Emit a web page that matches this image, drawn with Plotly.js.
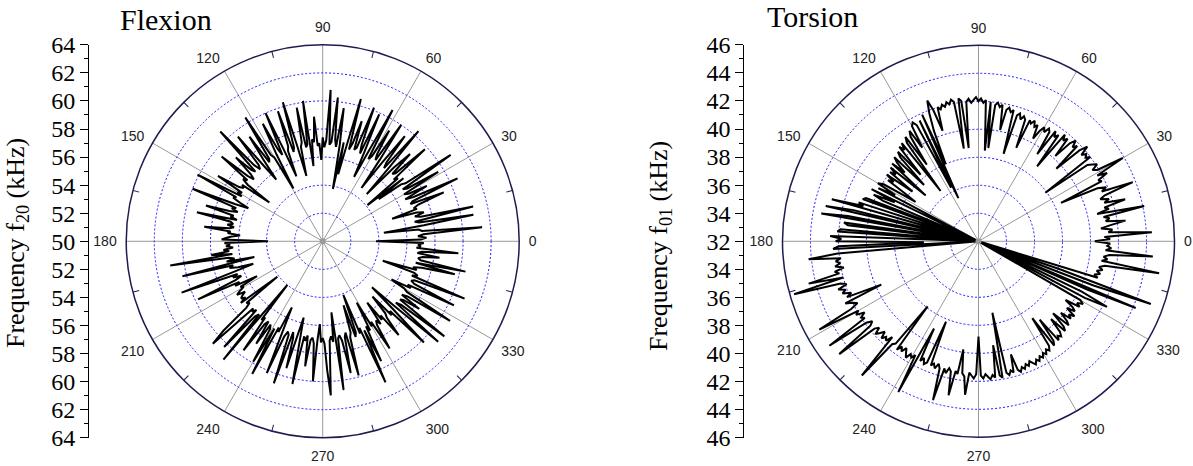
<!DOCTYPE html>
<html>
<head>
<meta charset="utf-8">
<script src="https://cdn.plot.ly/plotly-3.0.1.min.js"></script>
<style>html,body{margin:0;padding:0;background:#fff;}#chart{width:1193px;height:466px;}</style>
</head>
<body>
<div id="chart"></div>
<script>
// ---- Data: frequency (kHz) read every 1 degree, 0..359 ----
const flexionValues = [
53.8,57.0,57.4,56.8,57.2,61.4,57.1,56.9,54.4,57.3,
60.9,57.0,56.7,61.0,57.2,56.8,57.5,57.0,55.2,57.1,
56.9,57.3,59.3,56.8,57.0,60.6,57.2,56.6,58.4,57.0,
56.7,59.6,57.1,56.8,61.0,57.2,56.9,55.0,57.3,54.1,
57.0,56.7,59.8,57.1,56.9,58.8,57.3,54.6,57.0,60.4,
56.8,57.2,59.5,57.0,54.7,57.1,60.0,56.9,57.3,59.2,
57.0,56.7,60.6,57.2,55.1,57.0,59.9,56.8,57.4,60.2,
57.1,56.9,59.0,57.3,56.8,60.5,57.0,54.9,57.2,53.8,
57.0,59.6,56.8,57.3,60.3,57.1,56.9,60.8,57.2,56.7,
57.4,55.8,57.0,56.8,58.9,57.1,57.3,55.4,60.1,57.0,
56.8,59.7,57.2,56.9,54.8,57.1,60.3,57.0,56.7,59.8,
57.2,56.9,55.0,57.1,60.0,56.8,57.3,59.4,57.0,54.3,
56.9,57.2,60.4,57.0,56.8,59.1,57.2,55.5,56.9,59.6,
57.1,56.8,57.3,60.7,56.9,57.2,58.6,57.0,56.6,57.1,
59.4,56.9,57.2,56.7,54.7,57.0,56.8,57.1,58.8,56.7,
57.0,56.6,60.1,56.9,57.1,56.5,55.8,56.8,60.0,56.6,
56.9,56.4,57.0,58.7,56.6,56.8,56.3,59.2,56.7,56.5,
56.9,56.4,56.7,58.5,56.6,56.8,55.9,56.5,56.9,57.2,
53.9,57.0,56.6,56.9,56.4,57.1,56.7,58.0,56.5,61.0,
56.8,56.4,57.0,55.0,60.3,56.6,56.9,56.3,55.2,56.8,
60.7,56.5,56.9,56.3,56.8,59.8,56.6,57.0,55.3,56.7,
56.5,56.9,57.2,56.6,56.9,57.1,56.8,57.3,54.1,57.0,
56.8,57.2,59.5,60.7,56.9,57.1,56.8,60.3,57.2,56.9,
61.0,54.0,57.1,56.8,59.6,57.2,56.9,58.7,57.0,57.3,
59.9,57.1,60.7,56.9,57.2,55.2,57.0,60.2,57.3,56.9,
57.1,60.7,56.8,57.2,59.4,57.0,55.6,57.3,60.4,56.9,
57.2,56.8,59.0,57.1,56.9,57.3,60.0,57.0,55.9,57.2,
56.9,57.3,59.2,61.0,57.1,56.8,57.2,55.1,60.7,57.0,
56.8,57.2,59.6,57.0,56.7,59.9,57.1,56.8,54.8,57.2,
56.9,54.1,57.1,56.7,61.0,57.0,59.5,56.8,57.2,55.0,
57.0,56.7,59.0,57.1,56.8,57.2,55.4,57.0,56.7,58.6,
57.1,56.8,55.3,57.2,56.9,60.2,57.0,54.8,57.1,60.9,
56.8,57.2,61.0,56.9,57.1,58.4,56.8,57.2,60.7,57.0,
56.7,55.6,57.1,56.8,60.4,57.2,56.9,57.1,60.9,56.8,
57.2,56.9,54.5,57.0,56.7,57.3,59.7,56.8,60.4,57.1,
56.9,57.2,58.4,56.8,57.1,59.7,56.7,57.0,56.8,57.2
];
const torsionValues = [
40.3,41.4,41.0,44.4,41.3,41.6,40.8,41.5,42.6,41.2,
41.5,41.1,44.1,40.7,41.6,41.3,42.9,41.4,41.8,41.2,
41.6,43.8,41.5,41.9,41.3,38.5,41.8,41.6,42.4,41.7,
43.9,41.9,41.6,42.1,41.8,41.5,37.9,42.0,41.7,41.9,
41.6,42.3,41.7,39.6,41.8,41.5,42.0,41.6,40.2,41.7,
41.4,41.8,38.8,41.5,41.2,41.6,39.5,41.3,41.5,41.1,
41.4,41.0,40.3,41.3,41.1,41.5,41.2,41.4,39.2,41.3,
41.5,41.2,41.6,41.4,38.5,41.7,41.5,41.8,41.6,40.1,
41.9,41.7,42.0,41.8,38.7,42.0,38.5,42.1,41.9,42.2,
42.0,42.3,42.1,41.9,42.2,42.0,38.7,42.1,42.3,38.7,
42.1,42.3,42.0,42.2,41.9,42.1,41.8,42.0,40.3,41.9,
42.7,41.8,40.5,38.0,41.9,35.4,41.6,36.3,41.4,41.7,
41.5,39.8,41.3,40.9,38.6,41.1,40.7,36.5,40.9,40.4,
40.8,38.3,40.6,40.2,37.6,40.5,40.1,39.2,40.3,37.0,
40.2,39.6,40.0,37.9,40.1,39.4,39.8,38.2,37.3,39.9,
40.3,38.8,40.1,32.0,40.5,38.6,40.2,39.4,32.0,40.6,
40.8,32.0,41.0,40.6,42.9,32.0,41.2,43.2,32.0,41.5,
43.4,32.0,41.7,41.4,32.0,41.9,42.1,32.0,42.6,41.8,
42.2,35.9,42.0,42.4,32.0,42.1,44.2,41.9,42.3,42.0,
42.4,41.8,42.5,42.2,44.5,42.0,45.7,42.3,41.9,42.6,
42.1,42.4,41.8,42.2,39.6,42.5,42.0,41.7,42.3,45.0,
41.9,42.2,41.6,42.0,41.8,45.0,41.9,41.5,41.8,44.8,
41.7,41.4,41.9,41.6,41.3,41.8,41.5,41.7,41.2,44.7,
41.6,41.4,37.9,41.7,41.3,41.6,41.2,41.5,41.8,41.4,
41.6,41.3,44.2,39.0,41.5,41.2,41.6,41.4,38.2,41.5,
41.3,41.6,41.2,41.5,43.8,41.4,41.7,41.3,41.5,43.2,
41.4,41.6,39.8,41.5,41.7,43.0,41.4,41.6,41.8,41.5,
38.8,41.6,41.8,41.5,41.7,41.9,41.6,41.8,39.5,41.7,
41.9,37.2,41.6,41.8,41.5,41.7,40.4,41.6,41.8,41.5,
41.7,41.4,41.6,41.3,41.5,41.7,41.4,41.6,41.3,41.5,
41.2,41.4,41.1,41.3,41.0,38.7,41.2,40.9,39.1,41.1,
40.8,41.0,40.7,39.6,40.9,40.6,39.4,40.8,40.5,39.8,
40.6,40.3,40.7,39.9,40.5,40.2,39.5,40.6,40.3,40.7,
40.4,32.0,40.6,42.3,40.2,32.0,40.5,44.2,32.0,40.8,
45.1,38.2,32.0,40.9,40.6,41.0,40.7,41.1,40.8,41.2,
45.1,40.9,41.3,41.0,41.4,44.5,41.1,41.5,41.2,41.4
];

// ---- Axis ticks ----
const angleTickVals = [0,30,60,90,120,150,180,210,240,270,300,330];
const angleTickText = ["0","30","60","90","120","150","180","210","240","270","300","330"];
const angleMinorVals = [15,45,75,105,135,165,195,225,255,285,315,345];
const flexGridVals = [52,54,56,58,60,62];
const torsGridVals = [34,36,38,40,42,44];
const sideTickVals = [-14,-12,-10,-8,-6,-4,-2,0,2,4,6,8,10,12,14];
const sideMinorVals = [-13,-11,-9,-7,-5,-3,-1,1,3,5,7,9,11,13];
const flexSideText = ["64","62","60","58","56","54","52","50","52","54","56","58","60","62","64"];
const torsSideText = ["46","44","42","40","38","36","34","32","34","36","38","40","42","44","46"];
const flexRange = [50,64];
const torsRange = [32,46];

const degrees = flexionValues.map((_, i) => i);
function closed(arr){ return arr.concat([arr[0]]); }
const thetaClosed = degrees.concat([360]);

const serif = "Liberation Serif, Times New Roman, serif";
const sans = "Liberation Sans, Arial, sans-serif";
const navy = "#1c1c50";

const yDom = [0.0605, 0.9039];

function polarMain(dom, range, grid){
  return {
    domain: {x: dom, y: yDom},
    bgcolor: "rgba(255,255,255,0)",
    radialaxis: {range: range, tickvals: grid, showticklabels: false, ticks: "",
      showline: false, gridcolor: "#1a1aff", griddash: "2px,2px", gridwidth: 1},
    angularaxis: {rotation: 0, direction: "counterclockwise", tickvals: angleTickVals,
      ticktext: angleTickText, ticks: "outside", ticklen: 6, tickcolor: "rgba(0,0,0,0)",
      gridcolor: "#999999", gridwidth: 1,
      linecolor: navy, linewidth: 1.5, showline: true,
      tickfont: {family: sans, size: 14, color: "#222"}}
  };
}
function polarMinor(dom, range){
  return {
    domain: {x: dom, y: yDom},
    bgcolor: "rgba(255,255,255,0)",
    radialaxis: {range: range, visible: false},
    angularaxis: {rotation: 0, direction: "counterclockwise", tickvals: angleMinorVals,
      ticks: "inside", ticklen: 6, tickcolor: navy, tickwidth: 1, showticklabels: false,
      showgrid: false, showline: false}
  };
}
function sideAxis(pos, text){
  return {
    domain: yDom, range: [-14, 14], anchor: "free", position: pos,
    tickvals: sideTickVals, ticktext: text, ticks: "outside", ticklen: 8, tickwidth: 1,
    tickcolor: "#000", showline: true, linecolor: "#000", linewidth: 1, showgrid: false,
    zeroline: false, tickfont: {family: serif, size: 24, color: "#000"},
    minor: {tickvals: sideMinorVals, ticks: "outside", ticklen: 4, tickcolor: "#000", showgrid: false}
  };
}

const leftDom = [0.1058, 0.4352];
const rightDom = [0.6559, 0.9845];

const traces = [
  {type: "scatterpolar", subplot: "polar", r: closed(flexionValues), theta: thetaClosed,
   mode: "lines", line: {color: "#000", width: 2}, hoverinfo: "skip"},
  {type: "scatterpolar", subplot: "polar2", r: closed(torsionValues), theta: thetaClosed,
   mode: "lines", line: {color: "#000", width: 2}, hoverinfo: "skip"},
  {type: "scatterpolar", subplot: "polar3", r: [flexRange[0]], theta: [0], mode: "markers",
   marker: {size: 6, color: "#999"}, hoverinfo: "skip"},
  {type: "scatterpolar", subplot: "polar4", r: [torsRange[0]], theta: [0], mode: "markers",
   marker: {size: 6, color: "#999"}, hoverinfo: "skip"},
  {type: "scatter", x: [0], y: [0], xaxis: "x", yaxis: "y", mode: "markers",
   marker: {opacity: 0}, hoverinfo: "skip"},
  {type: "scatter", x: [0], y: [0], xaxis: "x2", yaxis: "y2", mode: "markers",
   marker: {opacity: 0}, hoverinfo: "skip"}
];

const layout = {
  width: 1193, height: 466,
  margin: {l: 0, r: 0, t: 0, b: 0},
  paper_bgcolor: "#fff", plot_bgcolor: "rgba(0,0,0,0)",
  showlegend: false,
  polar: polarMain(leftDom, flexRange, flexGridVals),
  polar2: polarMain(rightDom, torsRange, torsGridVals),
  polar3: polarMinor(leftDom, flexRange),
  polar4: polarMinor(rightDom, torsRange),
  xaxis: {domain: [0.074, 0.08], visible: false},
  xaxis2: {domain: [0.6231, 0.63], visible: false},
  yaxis: sideAxis(0.0738, flexSideText),
  yaxis2: Object.assign(sideAxis(0.6231, torsSideText), {anchor: "free"}),
  annotations: [
    {text: "Flexion", xref: "paper", yref: "paper", x: 118/1193, y: 1 - 19/466,
     xanchor: "left", yanchor: "middle", showarrow: false,
     font: {family: serif, size: 30, color: "#000"}},
    {text: "Torsion", xref: "paper", yref: "paper", x: 765/1193, y: 1 - 17/466,
     xanchor: "left", yanchor: "middle", showarrow: false,
     font: {family: serif, size: 30, color: "#000"}},
    {text: "Frequency f<sub>20</sub> (kHz)", xref: "paper", yref: "paper", x: 17/1193, y: 1 - 243/466,
     xanchor: "center", yanchor: "middle", textangle: -90, showarrow: false,
     font: {family: serif, size: 26, color: "#000"}},
    {text: "Frequency f<sub>01</sub> (kHz)", xref: "paper", yref: "paper", x: 660/1193, y: 1 - 246/466,
     xanchor: "center", yanchor: "middle", textangle: -90, showarrow: false,
     font: {family: serif, size: 26, color: "#000"}}
  ]
};

Plotly.newPlot("chart", traces, layout, {staticPlot: true, displayModeBar: false});
</script>
</body>
</html>
